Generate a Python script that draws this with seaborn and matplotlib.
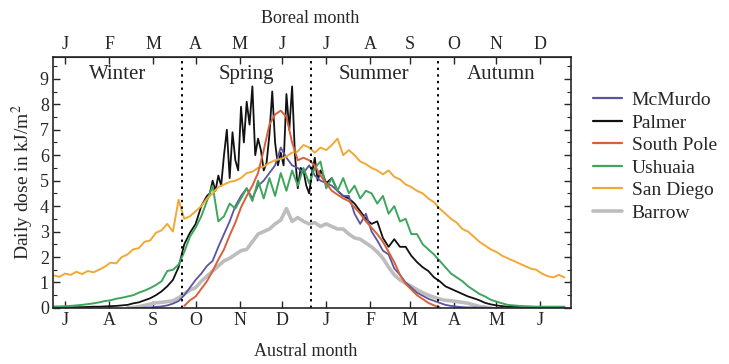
import numpy as np
import pandas as pd
import matplotlib
matplotlib.use("Agg")
import matplotlib.pyplot as plt
from matplotlib.lines import Line2D
from matplotlib.ticker import MultipleLocator
import seaborn as sns

nan = np.nan

# Day index counted from 1 July (austral year), sampled every 4 days
days = np.arange(-8, 353, 4)

san_diego = [1.28, 1.22, 1.35, 1.30, 1.42, 1.33, 1.45, 1.40, 1.50, 1.62,
             1.78, 1.75, 2.00, 2.10, 2.30, 2.35, 2.60, 2.65, 2.95, 3.05,
             3.30, 3.00, 4.25, 3.50, 3.60, 3.80, 4.00, 4.30, 4.50, 4.75,
             4.85, 4.95, 5.00, 5.10, 5.30, 5.35, 5.50, 5.55, 5.70, 5.80,
             5.85, 5.95, 6.10, 6.15, 6.40, 6.30, 6.10, 6.30, 6.20, 6.40,
             6.65, 6.00, 6.20, 6.00, 5.75, 5.65, 5.50, 5.40, 5.25, 5.40,
             5.15, 5.05, 4.85, 4.75, 4.60, 4.50, 4.30, 4.15, 3.90, 3.70,
             3.50, 3.35, 3.10, 3.00, 2.80, 2.60, 2.45, 2.30, 2.20, 2.05,
             1.95, 1.85, 1.75, 1.65, 1.55, 1.50, 1.35, 1.25, 1.20, 1.30,
             1.20]

ushuaia = [0.06, 0.06, 0.07, 0.08, 0.10, 0.12, 0.15, 0.18, 0.22, 0.27,
           0.30, 0.36, 0.40, 0.45, 0.50, 0.60, 0.68, 0.78, 0.90, 1.05,
           1.45, 1.50, 1.70, 2.20, 2.80, 3.15, 3.60, 4.20, 4.80, 3.40,
           3.60, 4.10, 3.90, 4.30, 4.70, 4.20, 5.00, 4.30, 5.10, 4.40,
           5.30, 4.60, 5.40, 4.80, 5.50, 4.90, 5.50, 5.75, 4.70, 5.10,
           4.60, 5.10, 4.50, 4.80, 4.30, 4.60, 4.50, 4.10, 4.40, 3.70,
           4.00, 3.40, 3.50, 2.90, 2.90, 2.50, 2.30, 2.10, 1.85, 1.60,
           1.35, 1.20, 1.05, 0.85, 0.70, 0.55, 0.45, 0.32, 0.25, 0.18,
           0.12, 0.10, 0.08, 0.07, 0.06, 0.05, 0.05, 0.05, 0.05, 0.05,
           0.05]

# Palmer: 4-day steps outside spring, 2-day steps through the spiky spring
palmer_days = list(range(-8, 101, 4)) + list(range(102, 183, 2)) + list(range(184, 353, 4))
palmer = [0.02, 0.02, 0.02, 0.02, 0.03, 0.03, 0.04, 0.05, 0.05, 0.06,
          0.07, 0.08, 0.10, 0.12, 0.18, 0.22, 0.30, 0.38, 0.50, 0.65,
          0.85, 1.10, 1.60, 2.50, 2.95, 3.30, 4.00, 4.40,
          4.50, 5.00, 4.60, 5.20, 4.80, 6.00, 7.00, 5.10, 6.90, 5.80,
          5.40, 7.90, 6.50, 8.10, 7.20, 8.70, 6.00, 6.65, 6.20, 5.40,
          5.70, 6.80, 8.50, 6.50, 5.60, 6.10, 5.60, 8.40, 7.00, 8.70,
          6.00, 4.70, 5.50, 5.40, 4.80, 4.50, 5.30, 5.90, 5.00, 5.40,
          5.20,
          4.90, 5.10, 4.60, 4.40, 4.30, 4.10, 3.80, 3.50, 3.30, 3.40,
          2.75, 2.40, 2.70, 2.40, 2.40, 2.05, 1.80, 1.60, 1.45, 1.20,
          1.05, 0.85, 0.75, 0.65, 0.55, 0.45, 0.38, 0.30, 0.20, 0.14,
          0.10, 0.07, 0.05, 0.05, 0.04, 0.04, 0.03, 0.03, 0.03, 0.02,
          0.02, 0.02, 0.02]

mcmurdo = [nan, nan, nan, nan, nan, nan, nan, nan, nan, nan,
           nan, nan, nan, nan, 0.00, 0.00, 0.01, 0.02, 0.04, 0.06,
           0.10, 0.17, 0.27, 0.50, 0.80, 1.10, 1.35, 1.65, 1.85, 2.40,
           2.90, 3.40, 4.00, 4.40, 4.70, 4.30, 4.80, 5.00, 5.30, 5.60,
           6.30, 5.90, 5.60, 5.50, 5.30, 5.60, 5.20, 5.00, 4.90, 4.80,
           4.60, 4.40, 4.40, 3.70, 3.30, 3.70, 3.00, 2.65, 2.25, 2.10,
           1.55, 1.30, 1.00, 0.80, 0.60, 0.48, 0.36, 0.28, 0.20, 0.12,
           0.08, 0.05, 0.03, 0.02, 0.02, 0.01, 0.01, 0.00, 0.00, 0.00,
           nan, nan, nan, nan, nan, nan, nan, nan, nan, nan,
           nan]

south_pole = [nan, nan, nan, nan, nan, nan, nan, nan, nan, nan,
              nan, nan, nan, nan, nan, nan, nan, nan, nan, nan,
              nan, nan, nan, 0.08, 0.30, 0.45, 0.75, 1.05, 1.45, 1.90,
              2.30, 2.85, 3.35, 3.95, 4.40, 4.80, 5.30, 6.20, 7.20, 7.60,
              7.75, 7.50, 6.50, 5.80, 5.90, 5.80, 5.60, 5.20, 4.90, 4.60,
              4.45, 4.30, 4.20, 3.95, 3.70, 3.40, 3.15, 2.90, 2.60, 2.20,
              1.80, 1.30, 0.95, 0.72, 0.50, 0.35, 0.20, 0.10, 0.03, nan,
              nan, nan, nan, nan, nan, nan, nan, nan, nan, nan,
              nan, nan, nan, nan, nan, nan, nan, nan, nan, nan,
              nan]

barrow = [nan, nan, nan, nan, nan, nan, nan, nan, nan, nan,
          nan, nan, nan, 0.00, 0.02, 0.05, 0.10, 0.15, 0.20, 0.22,
          0.25, 0.28, 0.40, 0.55, 0.70, 0.80, 1.05, 1.25, 1.45, 1.65,
          1.85, 1.95, 2.10, 2.25, 2.30, 2.60, 2.90, 3.00, 3.10, 3.30,
          3.45, 3.90, 3.40, 3.55, 3.40, 3.30, 3.35, 3.20, 3.30, 3.20,
          3.10, 3.10, 2.90, 2.75, 2.70, 2.55, 2.40, 2.20, 1.95, 1.60,
          1.30, 1.10, 0.97, 0.85, 0.72, 0.60, 0.50, 0.42, 0.35, 0.30,
          0.28, 0.25, 0.22, 0.18, 0.12, 0.06, 0.03, 0.00, nan, nan,
          nan, nan, nan, nan, nan, nan, nan, nan, nan, nan,
          nan]

series = {
    "McMurdo": (days, mcmurdo),
    "Palmer": (palmer_days, palmer),
    "South Pole": (days, south_pole),
    "Ushuaia": (days, ushuaia),
    "San Diego": (days, san_diego),
    "Barrow": (days, barrow),
}
colors = {
    "McMurdo": "#5a559e",
    "Palmer": "#111111",
    "South Pole": "#d8603a",
    "Ushuaia": "#3ea65c",
    "San Diego": "#f0a935",
    "Barrow": "#bdbdbd",
}
widths = {"McMurdo": 1.3, "Palmer": 1.3, "South Pole": 1.4,
          "Ushuaia": 1.4, "San Diego": 1.4, "Barrow": 2.6}
draw_order = ["Barrow", "Palmer", "McMurdo", "Ushuaia", "San Diego", "South Pole"]

# Month starts (days from 1 July) and their labels
month_pos = [0, 31, 62, 92, 123, 153, 184, 215, 243, 274, 304, 335]
austral_labels = ["J", "A", "S", "O", "N", "D", "J", "F", "M", "A", "M", "J"]
boreal_labels = ["J", "F", "M", "A", "M", "J", "J", "A", "S", "O", "N", "D"]
equinox_solstice = [82.6, 173.5, 262.5]
seasons = ["Winter", "Spring", "Summer", "Autumn"]
season_x = [37, 128, 218, 307]

frames = [pd.DataFrame({"day": np.asarray(d, dtype=float),
                        "dose": np.array(v, dtype=float), "site": k})
          for k, (d, v) in series.items()]
df = pd.concat(frames, ignore_index=True).dropna()

sns.set_style("ticks")
plt.rcParams["font.family"] = ["Liberation Serif", "DejaVu Serif"]
plt.rcParams["mathtext.fontset"] = "stix"

fig = plt.figure(figsize=(7.29, 3.64), dpi=100)
ax = fig.add_axes([0.0727, 0.154, 0.7105, 0.689])

for site in draw_order:
    sub = df[df["site"] == site]
    sns.lineplot(data=sub, x="day", y="dose", color=colors[site],
                 linewidth=widths[site], ax=ax, legend=False)

for xv in equinox_solstice:
    ax.axvline(xv, color="black", linestyle=(0, (1.2, 2.2)), linewidth=1.4)

for name, xs in zip(seasons, season_x):
    ax.text(xs, 9.15, name, ha="center", va="center", fontsize=15)

ax.set_xlim(-8.5, 356.5)
ax.set_ylim(0, 9.85)
ax.set_xticks(month_pos)
ax.set_xticklabels(austral_labels, fontsize=13)
ax.set_yticks(range(10))
ax.set_yticklabels([str(i) for i in range(10)], fontsize=13)
ax.yaxis.set_minor_locator(MultipleLocator(0.5))
ax.tick_params(axis="both", which="both", direction="in", right=True, top=False)
ax.tick_params(axis="both", which="major", length=5, width=1, pad=3)
ax.tick_params(axis="y", which="minor", length=3, width=0.8)
ax.set_xlabel("")
ax.set_ylabel("Daily dose in kJ/m$^2$", fontsize=14, labelpad=3)
for sp in ax.spines.values():
    sp.set_linewidth(1.2)

top = ax.secondary_xaxis("top")
top.set_xticks(month_pos)
top.set_xticklabels(boreal_labels, fontsize=13)
top.tick_params(direction="in", length=5, width=1, pad=3)

fig.text(0.425, 0.95, "Boreal month", ha="center", va="center", fontsize=13)
fig.text(0.42, 0.035, "Austral month", ha="center", va="center", fontsize=13)

handles = [Line2D([0], [0], color=colors[s], linewidth=1.6 if s != "Barrow" else 2.6)
           for s in series]
fig.legend(handles, list(series.keys()), loc="center left",
           bbox_to_anchor=(0.805, 0.57), frameon=False, fontsize=14,
           handlelength=1.5, handletextpad=0.5, labelspacing=0.25,
           borderaxespad=0.0, borderpad=0.3)

fig.savefig("out.png", dpi=100)
